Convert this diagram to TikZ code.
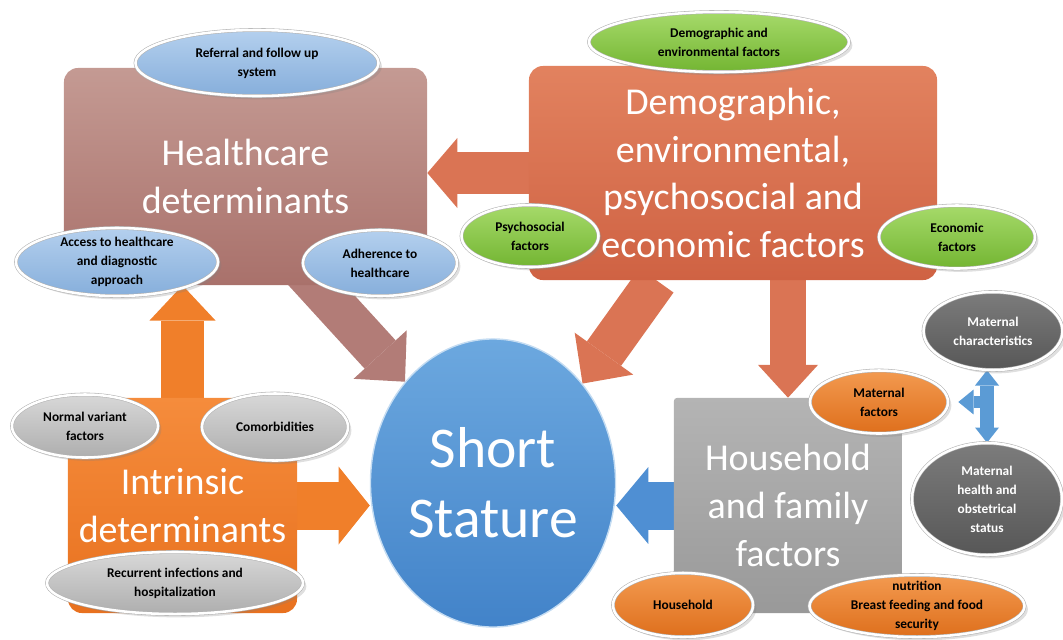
\documentclass[tikz,border=0pt]{standalone}
\usepackage{fontspec}
\setmainfont{Carlito}
\usetikzlibrary{shapes.geometric,arrows.meta,backgrounds,shadows}

\definecolor{hctop}{HTML}{C49A93}
\definecolor{hcbot}{HTML}{A9716B}
\definecolor{demtop}{HTML}{E2825F}
\definecolor{dembot}{HTML}{CF6243}
\definecolor{intop}{HTML}{F58C3C}
\definecolor{inbot}{HTML}{E8711F}
\definecolor{hhtop}{HTML}{B4B4B4}
\definecolor{hhbot}{HTML}{999999}
\definecolor{sstop}{HTML}{6CA8DF}
\definecolor{ssbot}{HTML}{4283C9}
\definecolor{demarrow}{HTML}{DA7454}
\definecolor{hcarrow}{HTML}{B27C77}
\definecolor{inarrow}{HTML}{F07F2A}
\definecolor{hharrow}{HTML}{4F8FD3}
\definecolor{matarrow}{HTML}{5B9BD5}

\tikzstyle{box} = [rectangle, rounded corners=10pt, text=white, align=center, inner sep=0pt, font=\fontsize{27}{34}\selectfont]
\tikzstyle{tag} = [ellipse, align=center, inner xsep=0pt, inner ysep=-4pt, draw=black!30, double=white, double distance=1.8pt, font=\fontsize{9.5}{13.5}\selectfont\bfseries, drop shadow={opacity=0.25}]
\tikzstyle{bluetag} = [tag, top color={rgb,255:red,180;green,208;blue,238}, bottom color={rgb,255:red,134;green,174;blue,219}]
\tikzstyle{greentag} = [tag, top color={rgb,255:red,166;green,218;blue,106}, bottom color={rgb,255:red,115;green,181;blue,50}]
\tikzstyle{greytag} = [tag, top color={rgb,255:red,216;green,216;blue,216}, bottom color={rgb,255:red,174;green,174;blue,174}]
\tikzstyle{darktag} = [tag, text=white, top color={rgb,255:red,124;green,124;blue,124}, bottom color={rgb,255:red,87;green,87;blue,87}]
\tikzstyle{orangetag} = [tag, top color={rgb,255:red,243;green,154;blue,80}, bottom color={rgb,255:red,222;green,111;blue,28}]

\begin{document}
\begin{tikzpicture}[x=0.025cm, y=-0.025cm]
\tikzset{fat/.style n args={3}{line width=#1cm, -{Triangle[length=#2cm, width=#3cm, line width=0pt]}}}
\useasboundingbox (0,0) rectangle (1063,639);

% main boxes
\node[box, top color=hctop, bottom color=hcbot, minimum width=9.075cm, minimum height=5.425cm] (hc) at (245.5,176.5) {Healthcare\\determinants};
\node[box, top color=demtop, bottom color=dembot, minimum width=10.2cm, minimum height=5.35cm] (demo) at (733,173) {Demographic,\\environmental,\\psychosocial and\\economic factors};
\node[box, top color=intop, bottom color=inbot, minimum width=5.725cm, minimum height=5.375cm] (intr) at (182.5,505.5) {Intrinsic\\determinants};
\node[box, rounded corners=2pt, top color=hhtop, bottom color=hhbot, minimum width=5.7cm, minimum height=5.375cm] (hh) at (788,505.5) {Household\\and family\\factors};
\node[ellipse, inner sep=0pt, draw=white!60!sstop, line width=1pt, top color=sstop, bottom color=ssbot, text=white, align=center, font=\fontsize{41}{50}\selectfont, minimum width=6.125cm, minimum height=7.2cm] (ss) at (493,483) {Short\\Stature};

% block arrows under the boxes
\begin{scope}[on background layer]
\draw[fat={1.05}{0.75}{1.75}, demarrow] (demo) -- (demo -| hc.east);
\draw[fat={1.05}{0.92}{1.8}, hcarrow] ([xshift=1.1cm, yshift=0.75cm]hc.south) -- (ss.131);
\draw[fat={1.05}{0.92}{1.8}, demarrow] (demo) -- (ss.48);
\draw[fat={0.9}{0.82}{1.5}, demarrow] (hh.north |- demo) -- (hh.north);
\draw[fat={1.2}{0.8}{1.92}, hharrow] (hh) -- (hh -| ss.east);
\draw[fat={1.2}{0.78}{1.95}, inarrow] (intr) -- (intr -| ss.west);
\draw[fat={1.05}{0.88}{1.65}, inarrow] (intr) -- (intr |- hc.south);
\end{scope}

% healthcare
\node[bluetag, minimum width=6.075cm, minimum height=1.65cm] (refer) at (257,63) {Referral and follow up\\system};
\node[bluetag, minimum width=5.05cm, minimum height=1.7cm] (access) at (117,262) {Access to healthcare\\and diagnostic\\approach};
\node[bluetag, minimum width=3.85cm, minimum height=1.65cm] (adher) at (380,263) {Adherence to\\healthcare};

% demographic
\node[greentag, minimum width=6.5cm, minimum height=1.5cm] (demtag) at (719,42) {Demographic and\\environmental factors};
\node[greentag, minimum width=3.425cm, minimum height=1.55cm] (psych) at (530,236) {Psychosocial\\factors};
\node[greentag, minimum width=3.9cm, minimum height=1.575cm] (econ) at (957,237) {Economic\\factors};

% intrinsic
\node[greytag, minimum width=3.65cm, minimum height=1.575cm] (normal) at (85,426) {Normal variant\\factors};
\node[greytag, minimum width=3.65cm, minimum height=1.675cm] (comorb) at (275,427) {Comorbidities};
\node[greytag, minimum width=6.4cm, minimum height=1.55cm] (recur) at (175,583) {Recurrent infections and\\hospitalization};

% household
\node[darktag, minimum width=3.475cm, minimum height=1.95cm] (mchar) at (993,331) {Maternal\\characteristics};
\node[darktag, minimum width=3.75cm, minimum height=2.8cm] (mhealth) at (987,499) {Maternal\\health and\\obstetrical\\status};
\node[orangetag, minimum width=3.45cm, minimum height=1.575cm] (mfac) at (879,402) {Maternal\\factors};
\node[orangetag, minimum width=3.5cm, minimum height=1.6cm] (house) at (683,605) {Household};
\node[orangetag, minimum width=5.375cm, minimum height=1.55cm] (nutr) at (917,606) {nutrition\\Breast feeding and food\\security};

\begin{scope}[on background layer]
\draw[line width=0.33cm, matarrow, {Triangle[length=0.38cm, width=0.6cm, line width=0pt]}-{Triangle[length=0.38cm, width=0.6cm, line width=0pt]}] (mhealth.north |- mchar.south) -- (mhealth.north);
\draw[line width=0.3cm, matarrow, -{Triangle[length=0.38cm, width=0.62cm, line width=0pt]}] (mhealth.north |- mfac) -- ([xshift=0.25cm]mfac.east);
\end{scope}
\end{tikzpicture}
\end{document}
